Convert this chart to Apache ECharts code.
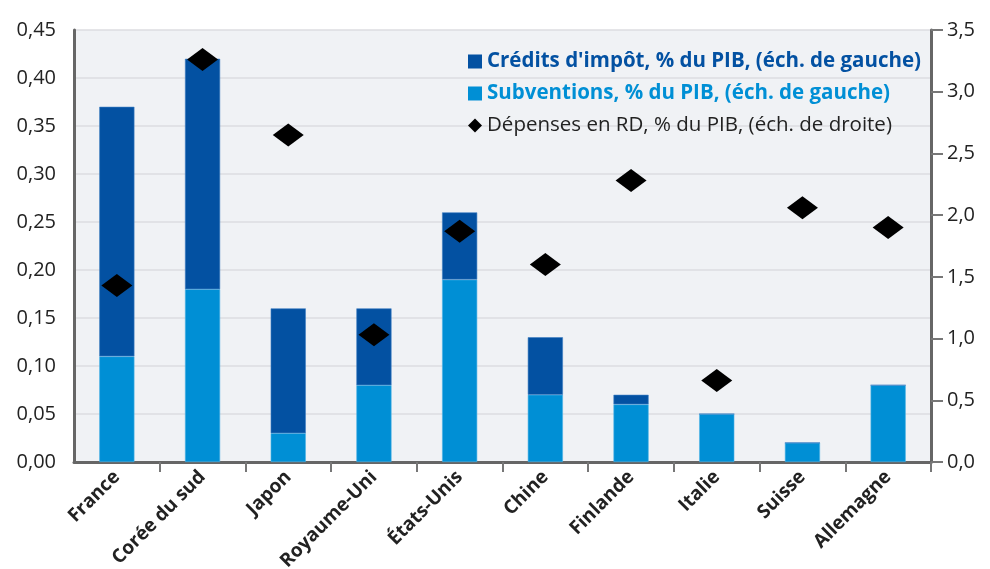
<!DOCTYPE html>
<html>
<head>
<meta charset="utf-8">
<script src="https://cdn.jsdelivr.net/npm/echarts@6/dist/echarts.min.js"></script>
<style>
html,body{margin:0;padding:0;background:#fff;}
#chart{width:990px;height:569px;}
</style>
</head>
<body>
<div id="chart"></div>
<script>
const categories = ['France', 'Corée du sud', 'Japon', 'Royaume-Uni', 'États-Unis', 'Chine', 'Finlande', 'Italie', 'Suisse', 'Allemagne'];
const subventions = [0.11, 0.18, 0.03, 0.08, 0.19, 0.07, 0.06, 0.05, 0.02, 0.08];
const credits = [0.26, 0.24, 0.13, 0.08, 0.07, 0.06, 0.01, 0, 0, 0];
const depensesRD = [1.43, 3.26, 2.65, 1.03, 1.87, 1.60, 2.28, 0.66, 2.06, 1.90];
const leftTicks = { min: 0, max: 0.45, interval: 0.05 };
const rightTicks = { min: 0, max: 3.5, interval: 0.5 };
const seriesNames = ["Crédits d'impôt, % du PIB, (éch. de gauche)", "Subventions, % du PIB, (éch. de gauche)", "Dépenses en RD, % du PIB, (éch. de droite)"];

const darkBlue = '#0351a2';
const lightBlue = '#008fd5';
const FONT = 'Open Sans';

const chart = echarts.init(document.getElementById('chart'));
chart.setOption({
  animation: false,
  textStyle: { fontFamily: FONT },
  grid: { left: 74, right: 59, top: 30, bottom: 107, show: true, backgroundColor: '#f0f2f5', borderWidth: 0, containLabel: false, outerBoundsMode: 'none' },
  legend: {
    orient: 'vertical', left: 463, top: 46, itemWidth: 14, itemHeight: 14, itemGap: 11,
    itemStyle: { borderWidth: 0 },
    data: [
      { name: seriesNames[0], icon: 'rect', textStyle: { color: darkBlue, fontWeight: 'bold', fontSize: 20.5, fontFamily: FONT } },
      { name: seriesNames[1], icon: 'rect', textStyle: { color: lightBlue, fontWeight: 'bold', fontSize: 20.5, fontFamily: FONT } },
      { name: seriesNames[2], icon: 'diamond', itemStyle: { opacity: 1, color: '#000' }, textStyle: { color: '#222', fontSize: 20.5, fontFamily: FONT } }
    ]
  },
  xAxis: {
    type: 'category', data: categories,
    axisLine: { lineStyle: { color: '#666', width: 3 } },
    axisTick: { show: true, length: 10, interval: (i) => i > 0, lineStyle: { color: '#777', width: 2 } },
    axisLabel: { rotate: 45, color: '#222', fontSize: 19, fontWeight: 'bold', fontFamily: FONT, margin: 12 }
  },
  yAxis: [
    {
      type: 'value', min: leftTicks.min, max: leftTicks.max, interval: leftTicks.interval,
      axisLine: { show: true, lineStyle: { color: '#666', width: 3 } },
      axisTick: { show: false },
      splitLine: { show: true, lineStyle: { color: '#dcdde0', width: 1.5 } },
      axisLabel: { color: '#222', fontSize: 20, fontFamily: FONT, margin: 18, formatter: v => v.toFixed(2).replace('.', ',') }
    },
    {
      type: 'value', min: rightTicks.min, max: rightTicks.max, interval: rightTicks.interval, position: 'right',
      axisLine: { show: true, lineStyle: { color: '#666', width: 3 } },
      axisTick: { show: true, length: 12, lineStyle: { color: '#777', width: 2 } },
      splitLine: { show: false },
      axisLabel: { color: '#222', fontSize: 20, fontFamily: FONT, margin: 16, formatter: v => v.toFixed(1).replace('.', ',') }
    }
  ],
  series: [
    {
      name: seriesNames[1], type: 'bar', stack: 'total', data: subventions, barWidth: '41%',
      itemStyle: { color: lightBlue, borderColor: '#4fb3e6', borderWidth: 0.6 }, z: 2
    },
    {
      name: seriesNames[0], type: 'bar', stack: 'total', data: credits, barWidth: '41%',
      itemStyle: { color: darkBlue, borderColor: '#3f7fc2', borderWidth: 0.6 }, z: 2
    },
    {
      name: seriesNames[2], type: 'scatter', yAxisIndex: 1, data: depensesRD,
      symbol: 'diamond', symbolSize: [31, 23], itemStyle: { color: '#000', opacity: 1 }, z: 5
    }
  ]
});
</script>
</body>
</html>
